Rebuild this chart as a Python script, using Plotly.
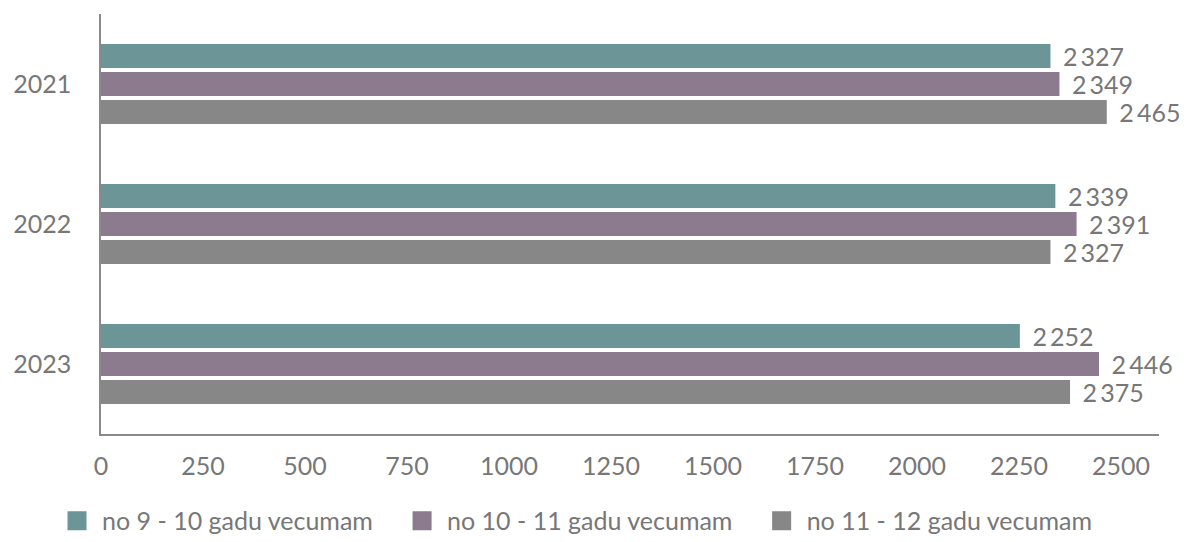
import plotly.graph_objects as go

years = ["2021", "2022", "2023"]
series_names = ["no 9 - 10 gadu vecumam", "no 10 - 11 gadu vecumam", "no 11 - 12 gadu vecumam"]
values_9_10 = [2327, 2339, 2252]
values_10_11 = [2349, 2391, 2446]
values_11_12 = [2465, 2327, 2375]
colors = ["#6b9597", "#8c7a8e", "#878787"]
x_ticks = [0, 250, 500, 750, 1000, 1250, 1500, 1750, 2000, 2250, 2500]

TXT = "#777777"
FS = 25


def fmt(v):
    return "\u00a0\u2009" + f"{v:,}".replace(",", "\u2009")


fig = go.Figure()
for name, vals, col in zip(series_names, [values_9_10, values_10_11, values_11_12], colors):
    fig.add_trace(go.Bar(
        y=years, x=vals, name=name, orientation="h",
        marker=dict(color=col, line=dict(width=0)),
        text=[fmt(v) for v in vals], textposition="outside", constraintext="none",
        textfont=dict(family="Lato", size=FS, color=TXT),
        cliponaxis=False, showlegend=False,
    ))
# legend entries
for name, col in zip(series_names, colors):
    fig.add_trace(go.Scatter(
        x=[None], y=[None], mode="markers", name=name + "\u00a0" * 3,
        marker=dict(symbol="square", size=20, color=col, line=dict(color=col, width=3)),
        showlegend=True,
    ))

fig.update_layout(
    width=1179, height=534,
    margin=dict(l=93, r=28, t=6, b=108, autoexpand=False),
    barmode="group", bargap=0.4, bargroupgap=0.143,
    plot_bgcolor="white", paper_bgcolor="white",
    font=dict(family="Lato", size=FS, color=TXT),
    showlegend=True,
    legend=dict(orientation="h", x=-0.0463, xanchor="left", xref="paper",
                y=-0.207, yanchor="middle",
                font=dict(family="Lato", size=FS, color=TXT), traceorder="normal",
                itemsizing="trace", itemwidth=40),
    xaxis=dict(range=[0, 2593], tickvals=x_ticks, ticktext=[str(t) for t in x_ticks],
               showgrid=False, zeroline=False, showline=True, linecolor="#8a8a8a", linewidth=1.5,
               ticks="outside", ticklen=0, ticklabelstandoff=9,
               tickfont=dict(family="Lato", size=FS, color=TXT)),
    yaxis=dict(range=[2.5, -0.5], type="category", showgrid=False, zeroline=False, showline=True,
               linecolor="#8a8a8a", linewidth=1.5, ticks="outside", ticklen=0, ticklabelstandoff=23,
               tickfont=dict(family="Lato", size=FS, color=TXT)),
)

fig.write_html("out.html")
